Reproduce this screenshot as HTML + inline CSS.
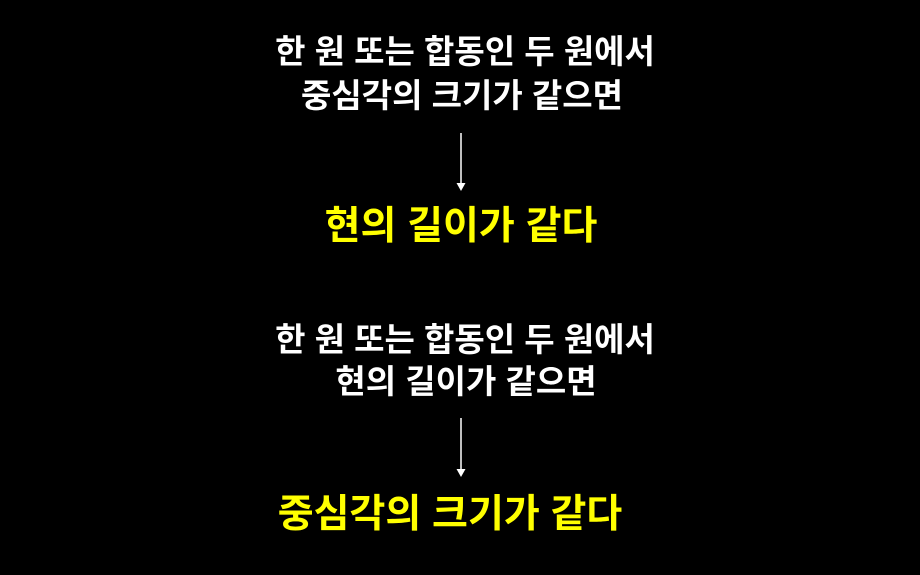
<!DOCTYPE html>
<html><head><meta charset="utf-8"><style>
body{margin:0;width:920px;height:575px;background:#000;overflow:hidden;position:relative;font-family:"Liberation Sans","Noto Sans CJK KR",sans-serif;font-weight:bold}
.t{position:absolute;left:0;width:922px;text-align:center;line-height:40px;white-space:nowrap}
.w{color:#fff;font-size:33px;letter-spacing:0px}
.y{color:#ffff00;font-size:39px;letter-spacing:0px}
</style></head><body>
<div class="t w" style="top:32px;left:4px">한 원 또는 합동인 두 원에서</div>
<div class="t w" style="top:76px;left:1px">중심각의 크기가 같으면</div>
<svg style="position:absolute;left:0;top:0" width="920" height="575">
<line x1="461" y1="133" x2="461" y2="184" stroke="#fff" stroke-width="1.5"/>
<polygon points="456.5,183 465.5,183 461,191" fill="#fff"/>
<line x1="461" y1="418" x2="461" y2="470" stroke="#fff" stroke-width="1.5"/>
<polygon points="456.5,469 465.5,469 461,477" fill="#fff"/>
</svg>
<div class="t y" style="top:207px">현의 길이가 같다</div>
<div class="t w" style="top:320px;left:4px">한 원 또는 합동인 두 원에서</div>
<div class="t w" style="top:362px;left:5px">현의 길이가 같으면</div>
<div class="t y" style="top:495px;left:-11px">중심각의 크기가 같다</div>
</body></html>
